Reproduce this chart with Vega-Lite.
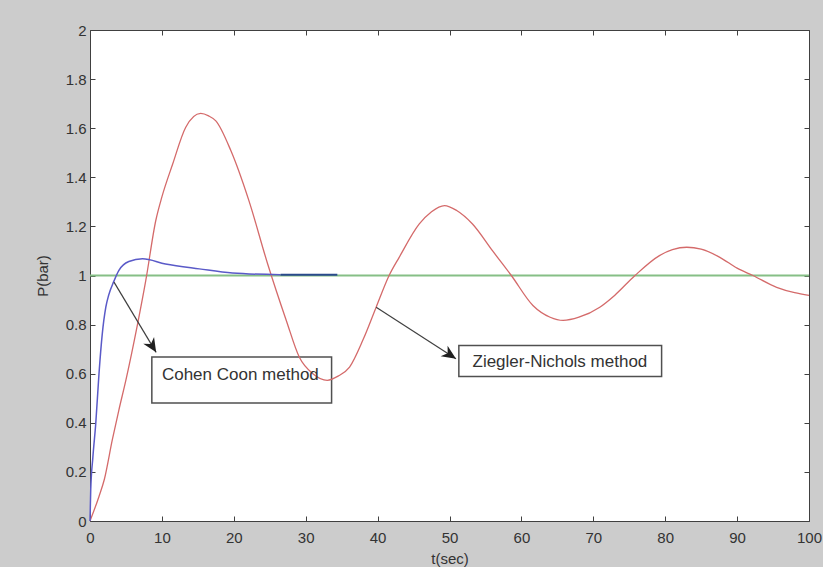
{
  "$schema": "https://vega.github.io/schema/vega-lite/v6.json",
  "width": 719,
  "height": 491,
  "autosize": {"type": "none"},
  "padding": {"left": 90, "top": 30, "right": 14, "bottom": 46},
  "background": "#cccccc",
  "config": {
    "view": {"stroke": "#404040", "strokeWidth": 1, "fill": "white"},
    "font": "Liberation Sans",
    "axis": {"grid": false, "domain": false, "labelFlush": false, "labelOverlap": false, "tickColor": "#404040", "labelColor": "#333333", "titleColor": "#333333", "labelFont": "Liberation Sans", "titleFont": "Liberation Sans", "labelFontSize": 15, "titleFontSize": 15, "titleFontWeight": "normal"}
  },
  "datasets": {
    "zn": [
      {"t": 0, "p": 0}, {"t": 1.25, "p": 0.1}, {"t": 2, "p": 0.17}, {"t": 3.1, "p": 0.33}, {"t": 4, "p": 0.45},
      {"t": 5, "p": 0.575}, {"t": 6.6, "p": 0.8}, {"t": 7.76, "p": 0.98}, {"t": 9.15, "p": 1.224}, {"t": 10, "p": 1.32},
      {"t": 11.5, "p": 1.454}, {"t": 13.3, "p": 1.603}, {"t": 15.4, "p": 1.66}, {"t": 16.5, "p": 1.65}, {"t": 17.5, "p": 1.63},
      {"t": 19.6, "p": 1.508}, {"t": 22.1, "p": 1.305}, {"t": 24.7, "p": 1.048}, {"t": 27.3, "p": 0.817}, {"t": 29.1, "p": 0.668},
      {"t": 31, "p": 0.6}, {"t": 33, "p": 0.573}, {"t": 34.5, "p": 0.59}, {"t": 36.1, "p": 0.627}, {"t": 38, "p": 0.74},
      {"t": 39.8, "p": 0.871}, {"t": 41.6, "p": 1.0}, {"t": 43, "p": 1.074}, {"t": 45.8, "p": 1.21}, {"t": 47.5, "p": 1.26},
      {"t": 49.3, "p": 1.285}, {"t": 51, "p": 1.265}, {"t": 53.2, "p": 1.21}, {"t": 56, "p": 1.1}, {"t": 58.6, "p": 1.0},
      {"t": 61.6, "p": 0.878}, {"t": 64, "p": 0.83}, {"t": 65.8, "p": 0.817}, {"t": 68, "p": 0.83}, {"t": 70.9, "p": 0.871},
      {"t": 73, "p": 0.92}, {"t": 75.8, "p": 1.0}, {"t": 79.2, "p": 1.081}, {"t": 81, "p": 1.105}, {"t": 83, "p": 1.115},
      {"t": 85, "p": 1.107}, {"t": 87.6, "p": 1.074}, {"t": 90, "p": 1.03}, {"t": 92.2, "p": 1.0}, {"t": 95.5, "p": 0.952},
      {"t": 98, "p": 0.93}, {"t": 100, "p": 0.919}
    ],
    "cc": [
      {"t": 0, "p": 0}, {"t": 0.1, "p": 0.126}, {"t": 0.4, "p": 0.26}, {"t": 0.8, "p": 0.397}, {"t": 1.25, "p": 0.6},
      {"t": 1.7, "p": 0.76}, {"t": 2.2, "p": 0.871}, {"t": 2.6, "p": 0.92}, {"t": 3.3, "p": 0.975}, {"t": 4.0, "p": 1.02},
      {"t": 5.4, "p": 1.057}, {"t": 7.3, "p": 1.068}, {"t": 10.5, "p": 1.047}, {"t": 15.2, "p": 1.027}, {"t": 19.8, "p": 1.01},
      {"t": 26.5, "p": 1.003}
    ],
    "ccdark": [{"t": 26.5, "p": 1.003}, {"t": 34.4, "p": 1.003}],
    "ref": [{"t": 0, "p": 1}, {"t": 100, "p": 1}],
    "arrows": [
      {"arrow": "cc", "t": 3.34, "p": 0.973}, {"arrow": "cc", "t": 9.2, "p": 0.687},
      {"arrow": "zn", "t": 39.8, "p": 0.871}, {"arrow": "zn", "t": 50.9, "p": 0.661}
    ],
    "boxes": [
      {"label": "Cohen Coon method", "x1": 8.6, "x2": 33.6, "y1": 0.481, "y2": 0.668, "tx": 10.0, "ty": 0.596},
      {"label": "Ziegler-Nichols method", "x1": 51.3, "x2": 79.5, "y1": 0.589, "y2": 0.715, "tx": 53.2, "ty": 0.648}
    ]
  },
  "resolve": {"axis": {"x": "independent", "y": "independent"}},
  "layer": [
    {
      "data": {"name": "boxes"},
      "mark": {"type": "rect", "fill": "white", "stroke": "#505050", "strokeWidth": 1.5},
      "encoding": {
        "x": {"field": "x1", "type": "quantitative", "scale": {"domain": [0, 100], "nice": false},
          "axis": {"orient": "bottom", "values": [0,10,20,30,40,50,60,70,80,90,100], "tickSize": -5, "labelPadding": 14, "title": "t(sec)", "titlePadding": 6}},
        "x2": {"field": "x2"},
        "y": {"field": "y1", "type": "quantitative", "scale": {"domain": [0, 2], "nice": false},
          "axis": {"orient": "left", "values": [0,0.2,0.4,0.6,0.8,1,1.2,1.4,1.6,1.8,2], "format": "~g", "tickSize": -5, "labelPadding": 9, "title": "P(bar)", "titlePadding": 15}},
        "y2": {"field": "y2"}
      }
    },
    {
      "data": {"name": "ref"},
      "mark": {"type": "line", "color": "#86bf86", "strokeWidth": 2},
      "encoding": {
        "x": {"field": "t", "type": "quantitative", "axis": {"orient": "top", "values": [0,10,20,30,40,50,60,70,80,90,100], "tickSize": -5, "labels": false, "title": null}},
        "y": {"field": "p", "type": "quantitative", "axis": {"orient": "right", "values": [0,0.2,0.4,0.6,0.8,1,1.2,1.4,1.6,1.8,2], "tickSize": -5, "labels": false, "title": null}}
      }
    },
    {
      "data": {"name": "zn"},
      "mark": {"type": "line", "color": "#d46a6a", "strokeWidth": 1.3, "interpolate": "monotone"},
      "encoding": {
        "x": {"field": "t", "type": "quantitative", "axis": null},
        "y": {"field": "p", "type": "quantitative", "axis": null}
      }
    },
    {
      "data": {"name": "cc"},
      "mark": {"type": "line", "color": "#5a5ac8", "strokeWidth": 1.5, "interpolate": "monotone"},
      "encoding": {
        "x": {"field": "t", "type": "quantitative", "axis": null},
        "y": {"field": "p", "type": "quantitative", "axis": null}
      }
    },
    {
      "data": {"name": "ccdark"},
      "mark": {"type": "line", "color": "#2a4a8c", "strokeWidth": 2.2},
      "encoding": {
        "x": {"field": "t", "type": "quantitative", "axis": null},
        "y": {"field": "p", "type": "quantitative", "axis": null}
      }
    },
    {
      "data": {"name": "arrows"},
      "mark": {"type": "line", "color": "#404040", "strokeWidth": 1.2},
      "encoding": {
        "x": {"field": "t", "type": "quantitative", "axis": null},
        "y": {"field": "p", "type": "quantitative", "axis": null},
        "detail": {"field": "arrow"}
      }
    },
    {
      "data": {"name": "arrows"},
      "transform": [{"filter": "datum.arrow == 'cc' && datum.t > 5"}],
      "mark": {"type": "point", "shape": "M0,0 L-0.45,1 L0,0.7 L0.45,1 Z", "filled": true, "color": "#202020", "opacity": 1, "size": 800, "angle": 148},
      "encoding": {
        "x": {"field": "t", "type": "quantitative", "axis": null},
        "y": {"field": "p", "type": "quantitative", "axis": null}
      }
    },
    {
      "data": {"name": "arrows"},
      "transform": [{"filter": "datum.arrow == 'zn' && datum.t > 45"}],
      "mark": {"type": "point", "shape": "M0,0 L-0.45,1 L0,0.7 L0.45,1 Z", "filled": true, "color": "#202020", "opacity": 1, "size": 800, "angle": 123},
      "encoding": {
        "x": {"field": "t", "type": "quantitative", "axis": null},
        "y": {"field": "p", "type": "quantitative", "axis": null}
      }
    },
    {
      "data": {"name": "boxes"},
      "mark": {"type": "text", "align": "left", "baseline": "middle", "fontSize": 17, "color": "#333333", "font": "Liberation Sans"},
      "encoding": {
        "x": {"field": "tx", "type": "quantitative", "axis": null},
        "y": {"field": "ty", "type": "quantitative", "axis": null},
        "text": {"field": "label"}
      }
    }
  ]
}
